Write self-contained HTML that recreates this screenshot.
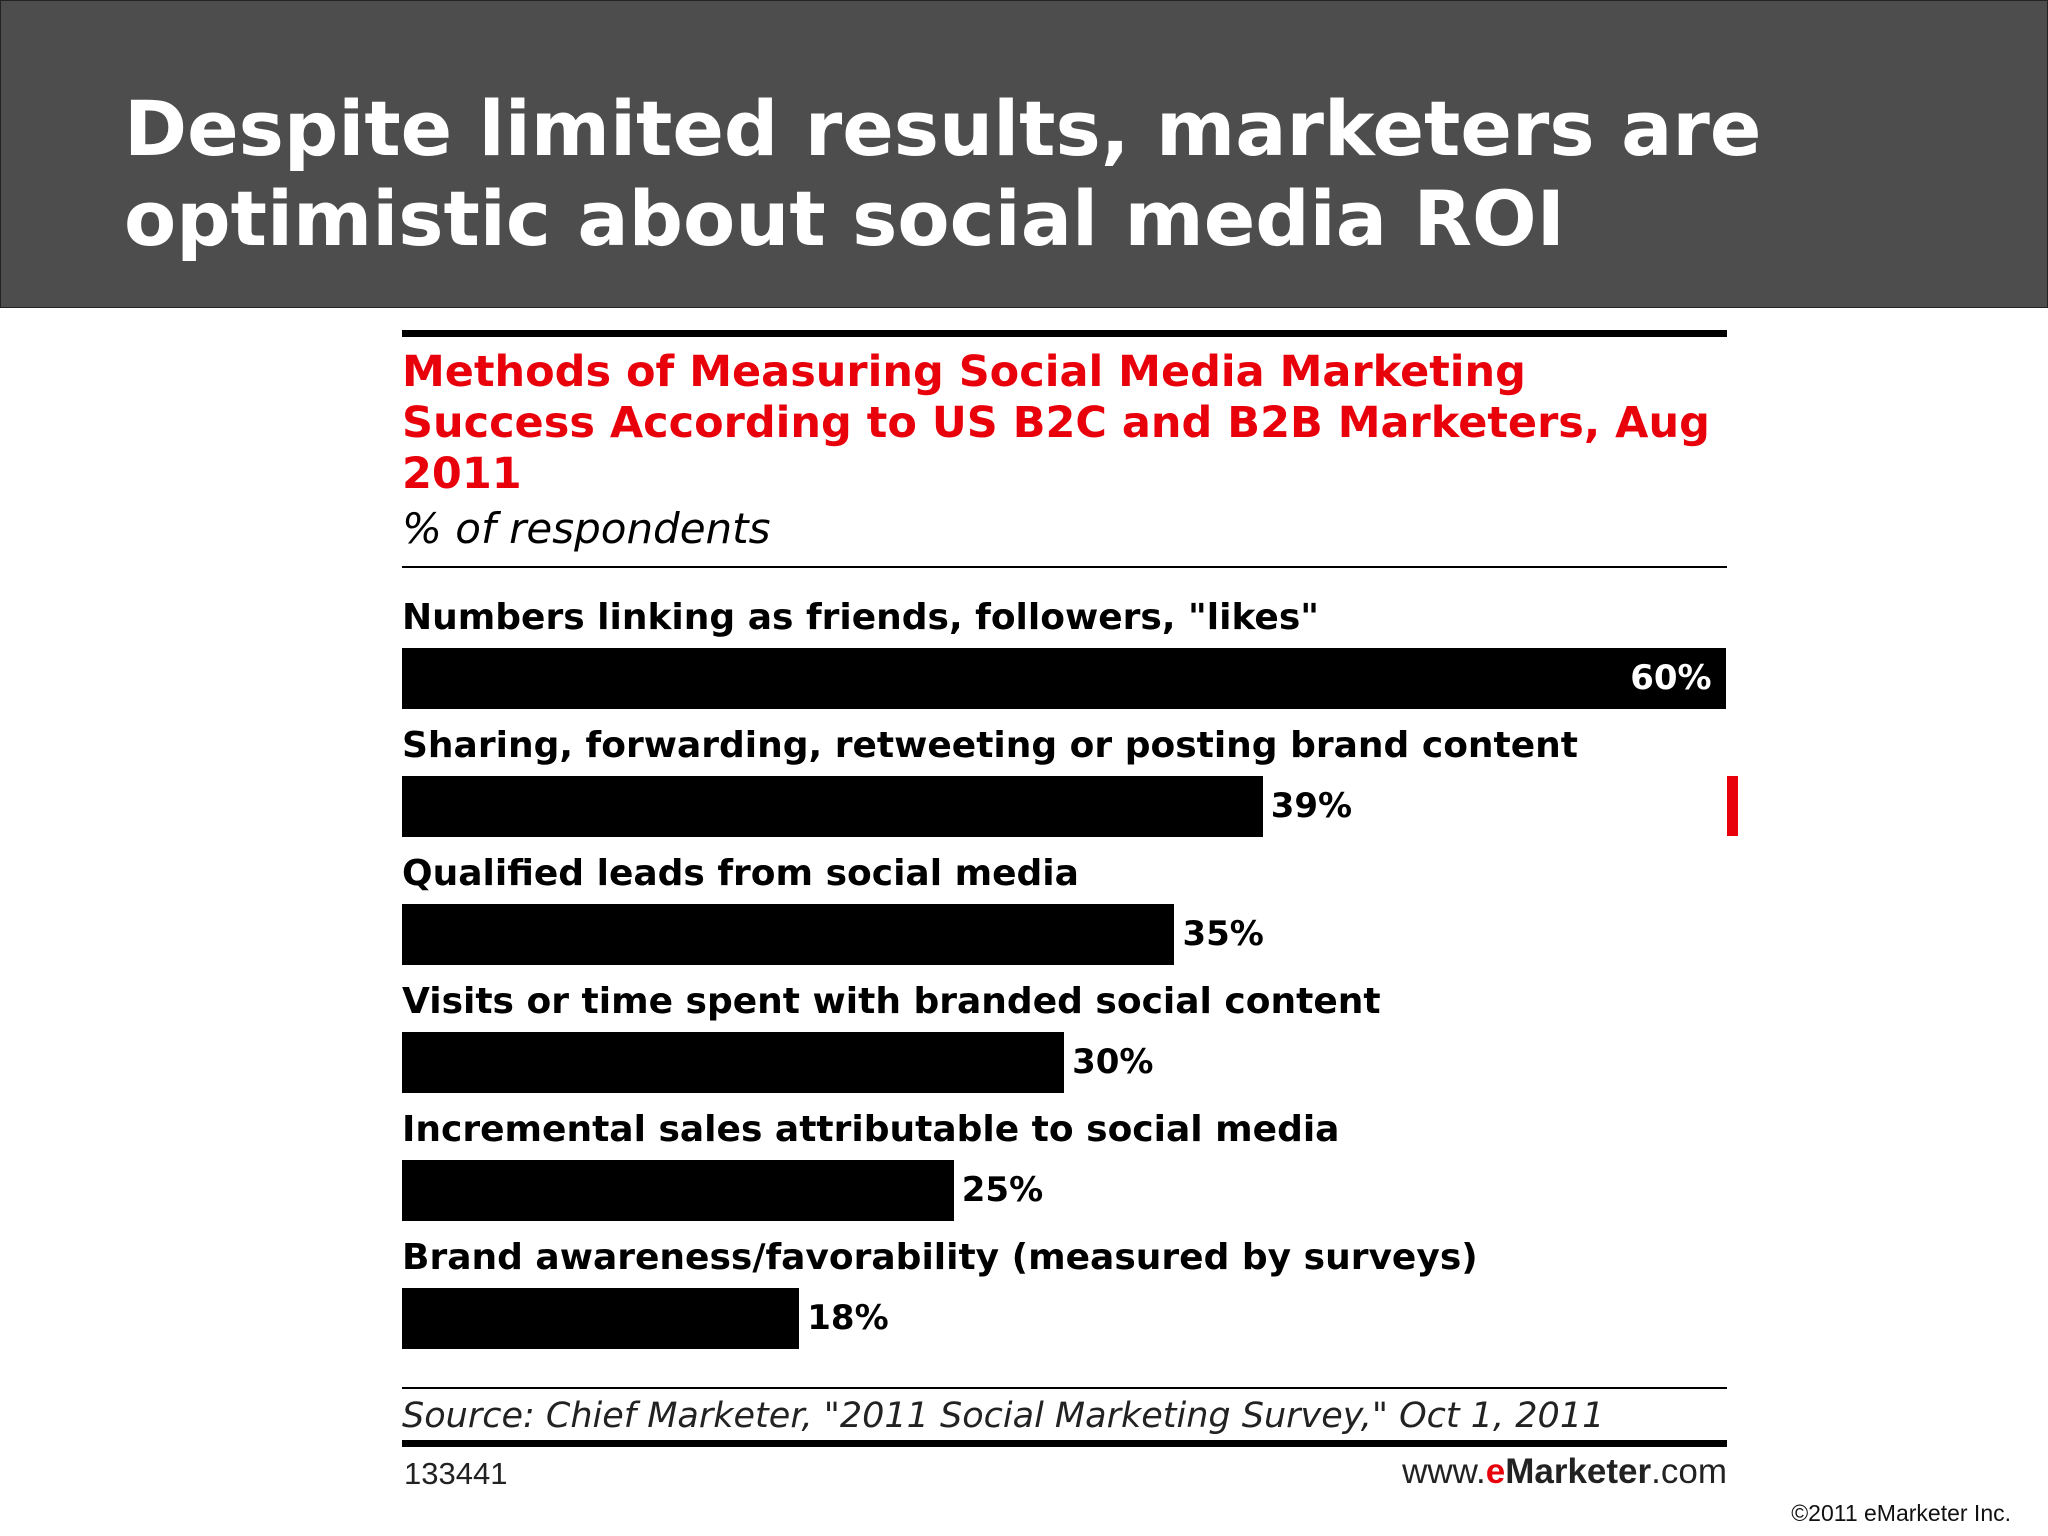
<!DOCTYPE html>
<html><head><meta charset="utf-8"><style>
body{margin:0;width:2048px;height:1536px;background:#fff;position:relative;overflow:hidden;font-family:"Liberation Sans",sans-serif}
.abs{position:absolute}
#hdr{left:0;top:0;width:2046px;height:306px;background:#4d4d4d;border:1px solid #222}
#htitle{left:124px;top:84px;color:#fff;font-weight:bold;font-size:76px;line-height:90px;font-family:"DejaVu Sans","Liberation Sans",sans-serif}
.red{color:#e8000b;font-weight:bold;font-size:43px;line-height:51px;font-family:"DejaVu Sans","Liberation Sans",sans-serif}
.lbl{font-weight:bold;font-size:36px;font-family:"DejaVu Sans","Liberation Sans",sans-serif;white-space:nowrap;color:#000}
.val{font-weight:bold;font-size:34px;font-family:"DejaVu Sans","Liberation Sans",sans-serif;color:#000;white-space:nowrap}
</style></head><body>
<div id="hdr" class="abs"></div>
<div id="htitle" class="abs">Despite limited results, marketers are<br>optimistic about social media ROI</div>
<div class="abs" style="left:402px;top:330px;width:1325px;height:7px;background:#000"></div>
<div class="abs red" style="left:402px;top:347px">Methods of Measuring Social Media Marketing<br>Success According to US B2C and B2B Marketers, Aug<br>2011</div>
<div class="abs" style="left:402px;top:504px;font-style:italic;font-size:42px;font-family:'DejaVu Sans',sans-serif">% of respondents</div>
<div class="abs" style="left:402px;top:566px;width:1325px;height:2px;background:#000"></div>
<div class="abs" style="left:1727px;top:776px;width:11px;height:60px;background:#e8000b"></div>
<div id="chart"></div>
<div class="abs" style="left:402px;top:1387px;width:1325px;height:2px;background:#000"></div>
<div class="abs" style="left:402px;top:1396px;font-style:italic;font-size:35px;font-family:'DejaVu Sans',sans-serif;color:#222">Source: Chief Marketer, "2011 Social Marketing Survey," Oct 1, 2011</div>
<div class="abs" style="left:402px;top:1440px;width:1325px;height:7px;background:#000"></div>
<div class="abs" style="left:404px;top:1456px;font-size:31px;color:#222">133441</div>
<div class="abs" style="right:321px;top:1452px;font-size:35px;color:#222">www.<b style="color:#e8000b">e</b><b>Marketer</b>.com</div>
<div class="abs" style="right:37px;top:1500px;font-size:23px;color:#111">©2011 eMarketer Inc.</div>
<script>
const categories=["Numbers linking as friends, followers, \"likes\"","Sharing, forwarding, retweeting or posting brand content","Qualified leads from social media","Visits or time spent with branded social content","Incremental sales attributable to social media","Brand awareness/favorability (measured by surveys)"];
const values=[60,39,35,30,25,18];
const x0=402,perPct=22.07,top0=648,step=128,bh=61;
const c=document.getElementById('chart');
categories.forEach((cat,i)=>{
  const y=top0+i*step, w=values[i]*perPct;
  const l=document.createElement('div');l.className='abs lbl';l.style.left=x0+'px';l.style.top=(y-51)+'px';l.textContent=cat;
  
  
  c.appendChild(l);
  const b=document.createElement('div');b.className='abs';b.style.cssText=`left:${x0}px;top:${y}px;width:${w}px;height:${bh}px;background:#000`;
  
  
  c.appendChild(b);
  const v=document.createElement('div');v.className='abs val';v.textContent=values[i]+'%';v.style.top=(y+10)+'px';
  if(i===0){v.style.color='#fff';v.style.left=(x0+w-96)+'px';}else{v.style.left=(x0+w+8)+'px';}
  
  
  c.appendChild(v);
});
</script>
</body></html>
